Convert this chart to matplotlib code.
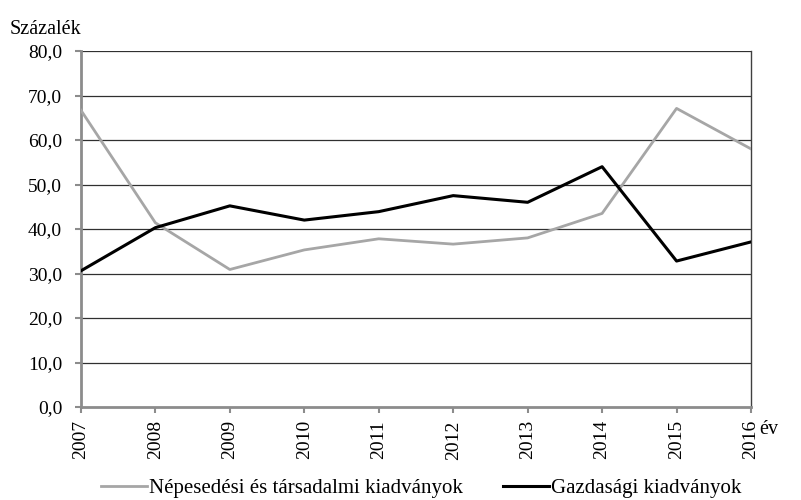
import matplotlib.pyplot as plt
from matplotlib.ticker import FuncFormatter

plt.rcParams['font.family'] = ['Liberation Serif', 'DejaVu Serif']

years = [2007, 2008, 2009, 2010, 2011, 2012, 2013, 2014, 2015, 2016]
nepesedesi = [66.7, 41.4, 30.9, 35.3, 37.8, 36.6, 38.0, 43.5, 67.1, 58.0]
gazdasagi = [30.6, 40.3, 45.2, 42.0, 43.9, 47.5, 46.0, 54.0, 32.8, 37.1]

fig = plt.figure(figsize=(8.01, 5), dpi=100)
ax = fig.add_axes([0.101, 0.186, 0.8366, 0.712])

for v in range(10, 90, 10):
    ax.axhline(v, color='#303030', lw=0.9, zorder=1)

ax.plot(years, nepesedesi, color='#a6a6a6', lw=2.0, label='Népesedési és társadalmi kiadványok', zorder=3)
ax.plot(years, gazdasagi, color='black', lw=2.2, label='Gazdasági kiadványok', zorder=4)

ax.set_xlim(2007, 2016)
ax.set_ylim(0, 80)
ax.set_yticks(range(0, 90, 10))
ax.yaxis.set_major_formatter(FuncFormatter(lambda v, p: f'{v:.1f}'.replace('.', ',')))
ax.set_xticks(years)
ax.set_xticklabels([str(y) for y in years], rotation=90)

ax.spines['top'].set_visible(False)
ax.spines['left'].set_color('#8c8c8c')
ax.spines['left'].set_linewidth(2)
ax.spines['bottom'].set_color('#8c8c8c')
ax.spines['bottom'].set_linewidth(2)
ax.spines['right'].set_color('#404040')
ax.spines['right'].set_linewidth(1)
ax.tick_params(axis='both', colors='#8c8c8c', width=1.5, length=4.5, labelcolor='black', labelsize=14)
ax.tick_params(axis='y', pad=9)
ax.tick_params(axis='x', pad=5)

fig.text(0.012, 0.94, 'Százalék', fontsize=14.5, ha='left', va='center')
fig.text(0.948, 0.14, 'év', fontsize=14.5, ha='left', va='center')

fig.legend(loc='center', bbox_to_anchor=(0.526, 0.024), ncol=2, frameon=False, fontsize=15,
           handlelength=2.2, handletextpad=0.1, columnspacing=1.9)

fig.savefig('out.png', dpi=100)
